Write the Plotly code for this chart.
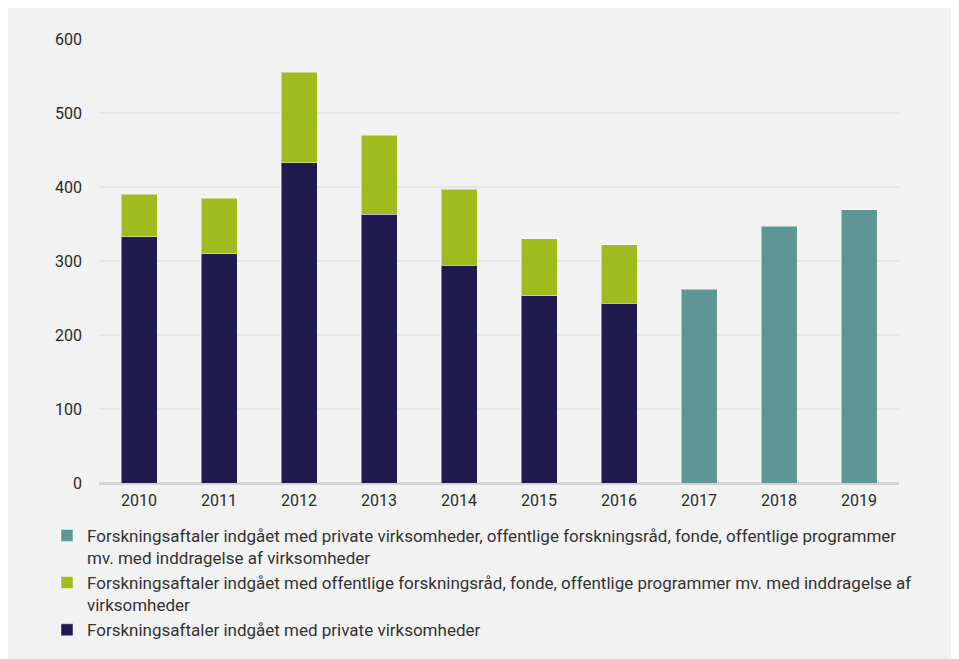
import plotly.graph_objects as go

years = ["2010", "2011", "2012", "2013", "2014", "2015", "2016", "2017", "2018", "2019"]

# Forskningsaftaler med private virksomheder (2010-2016)
private = [333, 310, 433, 363, 294, 253, 243, None, None, None]
# Offentlige forskningsråd, fonde mv. med inddragelse af virksomheder (2010-2016)
public = [57, 75, 122, 107, 103, 77, 79, None, None, None]
# Samlet opgørelse fra 2017
combined = [None, None, None, None, None, None, None, 262, 347, 369]

names = [
    "Forskningsaftaler indgået med private virksomheder",
    "Forskningsaftaler indgået med offentlige forskningsråd, fonde, offentlige programmer mv. med inddragelse af<br>virksomheder",
    "Forskningsaftaler indgået med private virksomheder, offentlige forskningsråd, fonde, offentlige programmer<br>mv. med inddragelse af virksomheder",
]
colors = ["#211a51", "#9fbb1e", "#5d9694"]

font = "Roboto, Arial, sans-serif"

fig = go.Figure()
for vals, name, col in zip([private, public, combined], names, colors):
    fig.add_trace(go.Bar(
        x=years, y=vals, name=name,
        marker=dict(color=col, line=dict(color="rgba(255,255,255,0.45)", width=1)),
        width=0.45,
    ))

fig.update_layout(
    width=959, height=659,
    barmode="stack",
    paper_bgcolor="#f2f2f2",
    plot_bgcolor="#f2f2f2",
    margin=dict(l=91, r=68, t=31, b=184),
    font=dict(family=font, size=16, color="#333333"),
    legend=dict(
        traceorder="reversed",
        orientation="v",
        valign="top",
        x=-0.065, xanchor="left",
        y=-0.0785, yanchor="top",
        bgcolor="rgba(0,0,0,0)",
        font=dict(family=font, size=17, color="#333333"),
        itemclick=False,
    ),
)

fig.update_yaxes(
    range=[0, 600], dtick=100,
    showgrid=True, gridcolor="#e0ebe8", gridwidth=1.5,
    zeroline=True, zerolinecolor="#d4d4d4", zerolinewidth=2.5,
    showline=False, ticks="", ticklabelstandoff=16,
    tickfont=dict(family=font, size=16, color="#2a2a2a"),
)
fig.update_xaxes(
    showgrid=False, showline=False, ticks="",
    ticklabelstandoff=6,
    tickfont=dict(family=font, size=16, color="#2a2a2a"),
)

fig.write_html("out.html")
